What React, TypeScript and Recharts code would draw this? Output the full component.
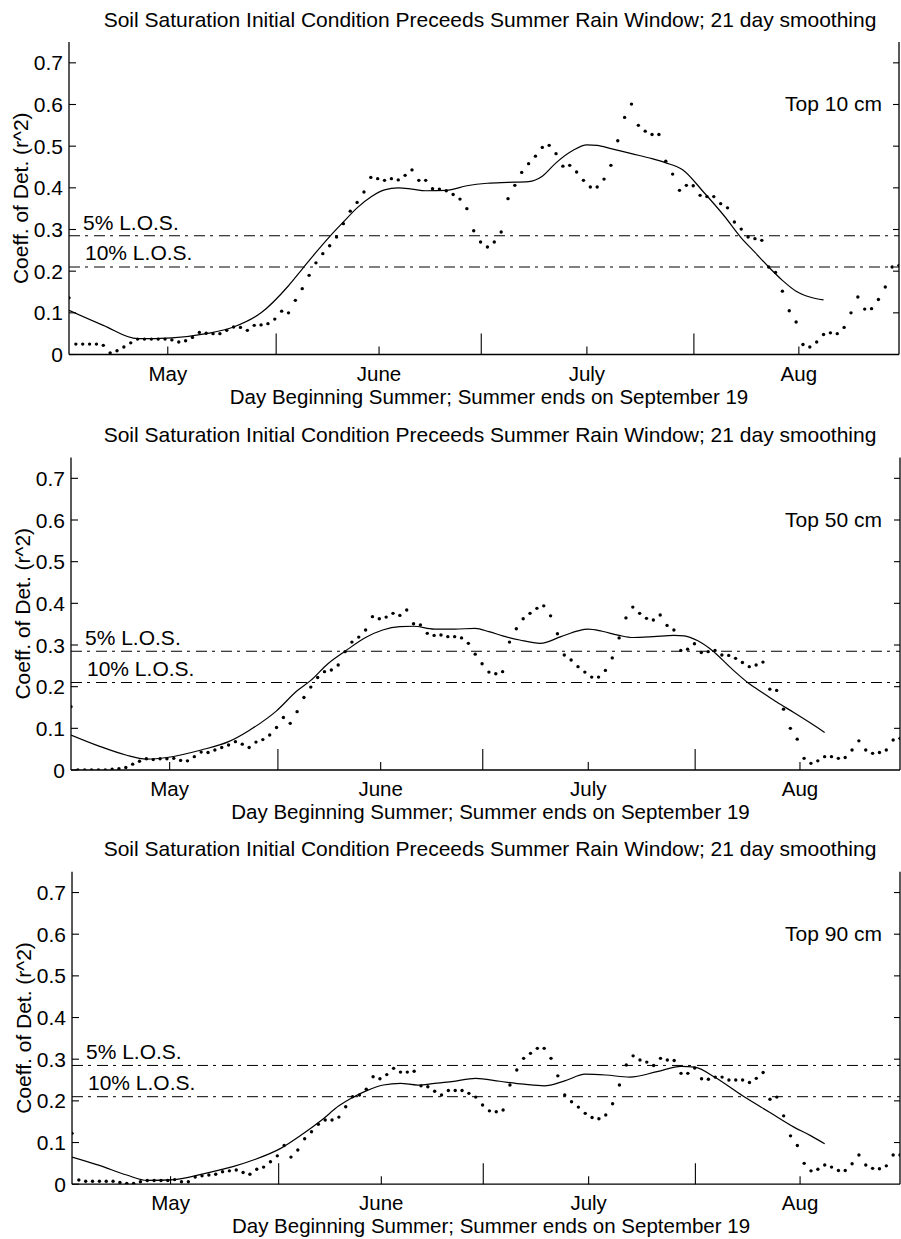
import React from 'react';
import { ComposedChart, Line, Scatter, XAxis, YAxis, ReferenceLine, Label } from 'recharts';

const FONT = '"Liberation Sans", Arial, Helvetica, sans-serif';

// x = day offset from the first daily point (mid April)
const monthTicks = [14.4, 45.2, 75.5, 106.4];
const monthLabels = ['May', 'June', 'July', 'Aug'];
const midMonthTicks = [30.2, 60.1, 91.1];
const yTicks = [0, 0.1, 0.2, 0.3, 0.4, 0.5, 0.6, 0.7];
const los5 = 0.285;
const los10 = 0.21;

const titleText = 'Soil Saturation Initial Condition Preceeds Summer Rain Window; 21 day smoothing';
const xLabelText = 'Day Beginning Summer; Summer ends on September 19';

// daily r^2, top 10 cm
const dots10 = [
  0.136, 0.025, 0.025, 0.025, 0.025, 0.022, 0.004, 0.009, 0.018, 0.028,
  0.037, 0.037, 0.037, 0.037, 0.037, 0.035, 0.030, 0.033, 0.041, 0.053,
  0.051, 0.050, 0.050, 0.058, 0.066, 0.065, 0.058, 0.070, 0.071, 0.074,
  0.085, 0.104, 0.100, 0.130, 0.158, 0.190, 0.220, 0.242, 0.261, 0.282,
  0.314, 0.344, 0.365, 0.390, 0.425, 0.422, 0.418, 0.422, 0.419, 0.430,
  0.443, 0.418, 0.418, 0.398, 0.397, 0.393, 0.384, 0.373, 0.350, 0.297,
  0.270, 0.258, 0.270, 0.294, 0.374, 0.406, 0.437, 0.458, 0.476, 0.497,
  0.502, 0.482, 0.452, 0.454, 0.438, 0.418, 0.402, 0.402, 0.421, 0.454,
  0.513, 0.569, 0.601, 0.550, 0.536, 0.528, 0.528, 0.464, 0.433, 0.394,
  0.406, 0.405, 0.382, 0.379, 0.379, 0.362, 0.352, 0.318, 0.301, 0.282,
  0.278, 0.274, 0.210, 0.197, 0.152, 0.105, 0.078, 0.024, 0.018, 0.030,
  0.048, 0.052, 0.050, 0.065, 0.100, 0.138, 0.109, 0.110, 0.132, 0.162,
  0.210, 0.214,
];
const smoothDays10 = [0, 5, 10, 15, 20, 24, 28, 32, 34, 36, 38, 40, 42, 44, 46, 48, 50, 52, 55, 58, 61, 64, 67, 69, 71, 73.5, 75.5, 77, 79, 82, 85, 87, 89.5, 92.5, 95.5, 98, 100, 102, 104, 106, 108, 110];
const smoothVals10 = [0.106, 0.07, 0.038, 0.04, 0.05, 0.066, 0.1, 0.165, 0.205, 0.245, 0.283, 0.318, 0.352, 0.378, 0.395, 0.4, 0.397, 0.393, 0.394, 0.405, 0.411, 0.413, 0.415, 0.428, 0.46, 0.49, 0.503, 0.502, 0.494, 0.482, 0.47, 0.46, 0.443, 0.39, 0.333, 0.28, 0.245, 0.21, 0.178, 0.152, 0.138, 0.131];

// top 50 cm
const dots50 = [
  0.152, 0.0, 0.0, 0.0, 0.0, 0.0, 0.002, 0.003, 0.006, 0.014,
  0.021, 0.027, 0.025, 0.027, 0.027, 0.028, 0.023, 0.022, 0.032, 0.043,
  0.042, 0.048, 0.054, 0.060, 0.068, 0.062, 0.054, 0.067, 0.073, 0.084,
  0.102, 0.126, 0.112, 0.140, 0.174, 0.199, 0.222, 0.236, 0.240, 0.252,
  0.284, 0.307, 0.319, 0.336, 0.368, 0.363, 0.367, 0.376, 0.371, 0.384,
  0.351, 0.348, 0.328, 0.323, 0.324, 0.320, 0.320, 0.317, 0.304, 0.278,
  0.255, 0.235, 0.231, 0.236, 0.307, 0.339, 0.363, 0.376, 0.388, 0.394,
  0.370, 0.327, 0.276, 0.264, 0.248, 0.235, 0.223, 0.223, 0.239, 0.269,
  0.317, 0.365, 0.391, 0.376, 0.364, 0.360, 0.372, 0.347, 0.336, 0.287,
  0.290, 0.303, 0.282, 0.284, 0.287, 0.276, 0.275, 0.268, 0.258, 0.248,
  0.252, 0.259, 0.194, 0.191, 0.146, 0.100, 0.074, 0.028, 0.016, 0.022,
  0.032, 0.032, 0.028, 0.030, 0.048, 0.070, 0.048, 0.040, 0.042, 0.048,
  0.072, 0.076,
];
const smoothDays50 = [0, 4, 8, 11, 14, 19, 23, 26, 30, 33, 35, 37.5, 40, 43, 45.5, 48, 50, 53, 56, 59, 61, 63, 65.5, 68.5, 71.5, 74, 75.5, 77.5, 80, 82, 85, 88, 89.5, 91.5, 93.5, 96.5, 99, 101, 103, 105.5, 108, 110];
const smoothVals50 = [0.084, 0.058, 0.036, 0.026, 0.03, 0.048, 0.068, 0.095, 0.142, 0.19, 0.215, 0.255, 0.285, 0.318, 0.336, 0.344, 0.345, 0.338, 0.338, 0.34, 0.332, 0.322, 0.312, 0.304, 0.32, 0.334, 0.338, 0.333, 0.323, 0.318, 0.32, 0.323, 0.322, 0.31, 0.288, 0.242, 0.207, 0.185, 0.163, 0.138, 0.112, 0.09];

// top 90 cm
const dots90 = [
  0.122, 0.010, 0.007, 0.007, 0.007, 0.007, 0.007, 0.004, 0.002, 0.002,
  0.006, 0.009, 0.009, 0.009, 0.009, 0.011, 0.006, 0.006, 0.017, 0.020,
  0.022, 0.024, 0.030, 0.032, 0.034, 0.028, 0.024, 0.036, 0.041, 0.054,
  0.068, 0.093, 0.065, 0.082, 0.109, 0.126, 0.144, 0.154, 0.154, 0.161,
  0.186, 0.210, 0.214, 0.228, 0.258, 0.253, 0.263, 0.278, 0.269, 0.269,
  0.271, 0.236, 0.234, 0.223, 0.214, 0.225, 0.225, 0.225, 0.218, 0.209,
  0.190, 0.176, 0.174, 0.178, 0.238, 0.274, 0.302, 0.314, 0.326, 0.326,
  0.302, 0.260, 0.214, 0.198, 0.185, 0.170, 0.160, 0.157, 0.166, 0.193,
  0.238, 0.286, 0.308, 0.298, 0.293, 0.285, 0.302, 0.298, 0.297, 0.266,
  0.266, 0.279, 0.253, 0.252, 0.257, 0.257, 0.250, 0.250, 0.250, 0.244,
  0.254, 0.268, 0.204, 0.209, 0.164, 0.116, 0.093, 0.050, 0.032, 0.036,
  0.046, 0.041, 0.033, 0.033, 0.049, 0.070, 0.046, 0.038, 0.037, 0.044,
  0.070, 0.070,
];
const smoothDays90 = [0, 4, 8, 11, 15, 19, 23.5, 26.5, 30.5, 33.5, 36.5, 39, 41, 43, 45.5, 48, 50.5, 53, 55.5, 59, 62.5, 66, 69, 72, 75, 78, 81.5, 85.5, 89, 91, 94, 98, 102, 105.5, 108, 110];
const smoothVals90 = [0.065, 0.045, 0.022, 0.009, 0.011, 0.024, 0.042, 0.058, 0.086, 0.118, 0.154, 0.188, 0.208, 0.224, 0.238, 0.242, 0.238, 0.242, 0.246, 0.254, 0.247, 0.24, 0.236, 0.248, 0.264, 0.262, 0.257, 0.27, 0.283, 0.281, 0.256, 0.212, 0.172, 0.137, 0.116, 0.097];

const PLOT_H = 312.5;
const X_AXIS_H = 55;

const txt = { fontFamily: FONT, fontSize: 21, fill: '#000' };
const txtSmall = { fontFamily: FONT, fontSize: 20.5, fill: '#000' };

const LeftTick = (props: any) => {
  const { x, y, payload } = props;
  return (
    <g>
      <line x1={x} x2={x + 7} y1={y} y2={y} stroke="#000" strokeWidth={1.1} />
      <text x={x - 6} y={y} dy="0.36em" textAnchor="end" {...txt}>{payload.value}</text>
    </g>
  );
};

const RightTick = (props: any) => {
  const { x, y } = props;
  return <line x1={x} x2={x - 6} y1={y} y2={y} stroke="#000" strokeWidth={1.1} />;
};

const TopTick = (props: any) => {
  const { x, y } = props;
  return <line x1={x} x2={x} y1={y} y2={y + 7} stroke="#000" strokeWidth={1.1} />;
};

const BottomTick = (props: any) => {
  const { x, y, payload } = props;
  const k = monthTicks.indexOf(payload.value);
  const len = k >= 0 ? 8 : 21;
  return (
    <g>
      <line x1={x} x2={x} y1={y} y2={y - len} stroke="#000" strokeWidth={1.1} />
      {k >= 0 && (
        <text x={x} y={y + 26} textAnchor="middle" {...txtSmall}>{monthLabels[k]}</text>
      )}
    </g>
  );
};

const renderDot = (p: any) => <circle cx={p.cx} cy={p.cy} r={1.7} fill="#000" />;

function losLabel(text: string, dx: number, dy: number) {
  return (props: any) => {
    const vb = props.viewBox || {};
    return (
      <text x={vb.x + dx} y={vb.y - dy} {...txt}>{text}</text>
    );
  };
}

interface PanelProps {
  top: number;
  plotTop: number;
  plotLeft: number;
  plotRight: number;
  depth: string;
  dots: number[];
  sDays: number[];
  sVals: number[];
}

function Panel({ top, plotTop, plotLeft, plotRight, depth, dots, sDays, sVals }: PanelProps) {
  const width = 901;
  const height = plotTop + PLOT_H + X_AXIS_H;
  const dotData = dots.map((y, i) => ({ x: i, y }));
  const lineData = sDays.map((x, i) => ({ x, y: sVals[i] }));
  const plotCenter = (plotLeft + plotRight) / 2;
  const y06 = plotTop + (0.15 / 0.75) * PLOT_H;

  return (
    <div style={{ position: 'absolute', left: 0, top, width, height }}>
      <div
        style={{
          position: 'absolute', left: 490, top: plotTop - 15.5 - 17.8,
          transform: 'translateX(-50%)', whiteSpace: 'nowrap',
          fontFamily: FONT, fontSize: 21, lineHeight: '21px', color: '#000',
        }}
      >
        {titleText}
      </div>
      <div
        style={{
          position: 'absolute', right: 901 - 882, top: y06 + 6.5 - 17.8,
          whiteSpace: 'nowrap', fontFamily: FONT, fontSize: 21, lineHeight: '21px', color: '#000',
        }}
      >
        {depth}
      </div>
      <ComposedChart
        width={width}
        height={height}
        margin={{ top: plotTop, right: 0, bottom: 0, left: 0 }}
        style={{ position: 'absolute', left: 0, top: 0 }}
      >
        <XAxis
          xAxisId="b"
          dataKey="x"
          type="number"
          domain={[0, 121]}
          allowDataOverflow
          ticks={[...monthTicks, ...midMonthTicks]}
          interval={0}
          tickSize={0}
          tickMargin={0}
          tickLine={false}
          axisLine={{ stroke: '#000', strokeWidth: 1.3 }}
          tick={BottomTick}
          height={X_AXIS_H}
        >
          <Label
            content={(p: any) => {
              const vb = p.viewBox || {};
              return (
                <text x={plotCenter + 5} y={vb.y + 49} textAnchor="middle" {...txtSmall}>{xLabelText}</text>
              );
            }}
          />
        </XAxis>
        <XAxis
          xAxisId="t"
          orientation="top"
          dataKey="x"
          type="number"
          domain={[0, 121]}
          allowDataOverflow
          ticks={monthTicks}
          interval={0}
          tickSize={0}
          tickMargin={0}
          tickLine={false}
          axisLine={{ stroke: '#000', strokeWidth: 1.3 }}
          tick={TopTick}
          height={0}
        />
        <YAxis
          yAxisId="l"
          type="number"
          domain={[0, 0.75]}
          allowDataOverflow
          ticks={yTicks}
          interval={0}
          tickSize={0}
          tickMargin={0}
          tickLine={false}
          axisLine={{ stroke: '#000', strokeWidth: 1.3 }}
          tick={LeftTick}
          width={plotLeft}
        >
          <Label
            content={(p: any) => {
              const vb = p.viewBox || {};
              const cx = plotLeft - 41;
              const cy = vb.y + vb.height / 2;
              return (
                <text x={cx} y={cy} transform={`rotate(-90 ${cx} ${cy})`} textAnchor="middle" {...txt}>
                  Coeff. of Det. (r^2)
                </text>
              );
            }}
          />
        </YAxis>
        <YAxis
          yAxisId="r"
          orientation="right"
          type="number"
          domain={[0, 0.75]}
          allowDataOverflow
          ticks={yTicks.slice(1)}
          interval={0}
          tickSize={0}
          tickMargin={0}
          tickLine={false}
          axisLine={{ stroke: '#000', strokeWidth: 1.3 }}
          tick={RightTick}
          width={901 - plotRight}
        />
        <ReferenceLine
          xAxisId="b"
          yAxisId="l"
          y={los5}
          stroke="#000"
          strokeWidth={1}
          strokeDasharray="11 5 3 6"
          label={losLabel('5% L.O.S.', 14, 6)}
        />
        <ReferenceLine
          xAxisId="b"
          yAxisId="l"
          y={los10}
          stroke="#000"
          strokeWidth={1}
          strokeDasharray="11 5 3 6"
          label={losLabel('10% L.O.S.', 16, 7)}
        />
        <Line
          xAxisId="b"
          yAxisId="l"
          data={lineData}
          dataKey="y"
          type="monotone"
          stroke="#000"
          strokeWidth={1.2}
          dot={false}
          activeDot={false}
          isAnimationActive={false}
        />
        <Scatter
          xAxisId="b"
          yAxisId="l"
          data={dotData}
          dataKey="y"
          shape={renderDot}
          isAnimationActive={false}
        />
      </ComposedChart>
    </div>
  );
}

export default function App() {
  return (
    <div style={{ position: 'absolute', left: 0, top: 0, width: 901, height: 1239, background: '#fff', overflow: 'hidden' }}>
      <Panel top={0} plotTop={42} plotLeft={69} plotRight={899} depth="Top 10 cm" dots={dots10} sDays={smoothDays10} sVals={smoothVals10} />
      <Panel top={400} plotTop={57.5} plotLeft={71} plotRight={900} depth="Top 50 cm" dots={dots50} sDays={smoothDays50} sVals={smoothVals50} />
      <Panel top={820} plotTop={51.7} plotLeft={72} plotRight={900} depth="Top 90 cm" dots={dots90} sDays={smoothDays90} sVals={smoothVals90} />
    </div>
  );
}
